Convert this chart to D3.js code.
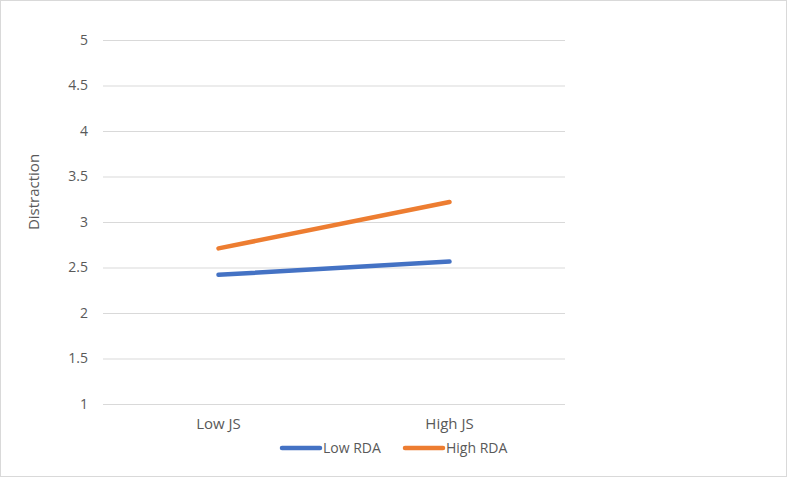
<!DOCTYPE html>
<html>
<head>
<meta charset="utf-8">
<script src="https://cdn.jsdelivr.net/npm/d3@7"></script>
<style>
  body { margin: 0; background: #fff; }
  text { font-family: "Open Sans", "Liberation Sans", sans-serif; fill: #595959; }
</style>
</head>
<body>
<svg id="chart" width="787" height="477"></svg>
<script>
const categories = ["Low JS", "High JS"];
const seriesNames = ["Low RDA", "High RDA"];
const lowRDA = [2.42, 2.565];
const highRDA = [2.71, 3.22];
const yTicks = [1, 1.5, 2, 2.5, 3, 3.5, 4, 4.5, 5];
const colors = ["#4472C4", "#ED7D31"];

const svg = d3.select("#chart");
const margin = {left: 103, right: 222, top: 40, bottom: 73};
const width = 787 - margin.left - margin.right;
const height = 477 - margin.top - margin.bottom;

// chart border
svg.append("rect")
    .attr("x", 0.5).attr("y", 0.5)
    .attr("width", 786).attr("height", 476)
    .attr("fill", "white")
    .attr("stroke", "#d9d9d9");

const g = svg.append("g").attr("transform", `translate(${margin.left},${margin.top})`);

const x = d3.scaleBand().domain(categories).range([0, width]);
const y = d3.scaleLinear().domain([1, 5]).range([height, 0]);

// gridlines
const yAxis = g.append("g")
    .call(d3.axisLeft(y).tickValues(yTicks).tickSize(-width).tickFormat(d3.format("")))
yAxis.select(".domain").remove();
yAxis.selectAll(".tick line").attr("stroke", "#d9d9d9").attr("stroke-width", 1);
yAxis.selectAll(".tick text")
    .attr("x", -15)
    .attr("font-size", 14)
    .style("font-family", "'Open Sans', sans-serif")
    .attr("fill", "#595959");

const xAxis = g.append("g")
    .attr("transform", `translate(0,${height})`)
    .call(d3.axisBottom(x).tickSize(0).tickPadding(14));
xAxis.select(".domain").remove();
xAxis.selectAll(".tick text")
    .attr("font-size", 15)
    .style("font-family", "'Open Sans', sans-serif")
    .attr("fill", "#595959");

// y title
g.append("text")
    .attr("transform", `translate(${-64},${height / 2 - 30}) rotate(-90)`)
    .attr("text-anchor", "middle")
    .attr("font-size", 15)
    .text("Distraction");

const line = d3.line()
    .x((d, i) => x(categories[i]) + x.bandwidth() / 2)
    .y(d => y(d));

[lowRDA, highRDA].forEach((s, i) => {
    g.append("path")
        .datum(s)
        .attr("d", line)
        .attr("fill", "none")
        .attr("stroke", colors[i])
        .attr("stroke-width", 4.5)
        .attr("stroke-linecap", "round");
});

// legend
const legend = svg.append("g").attr("transform", "translate(282,448)");
const legendX = [0, 123];
seriesNames.forEach((name, i) => {
    const item = legend.append("g").attr("transform", `translate(${legendX[i]},0)`);
    item.append("line")
        .attr("x1", 0).attr("x2", 38)
        .attr("stroke", colors[i])
        .attr("stroke-width", 4.5)
        .attr("stroke-linecap", "round");
    item.append("text")
        .attr("x", 41).attr("y", 5)
        .attr("font-size", 14)
        .text(name);
});
</script>
</body>
</html>
